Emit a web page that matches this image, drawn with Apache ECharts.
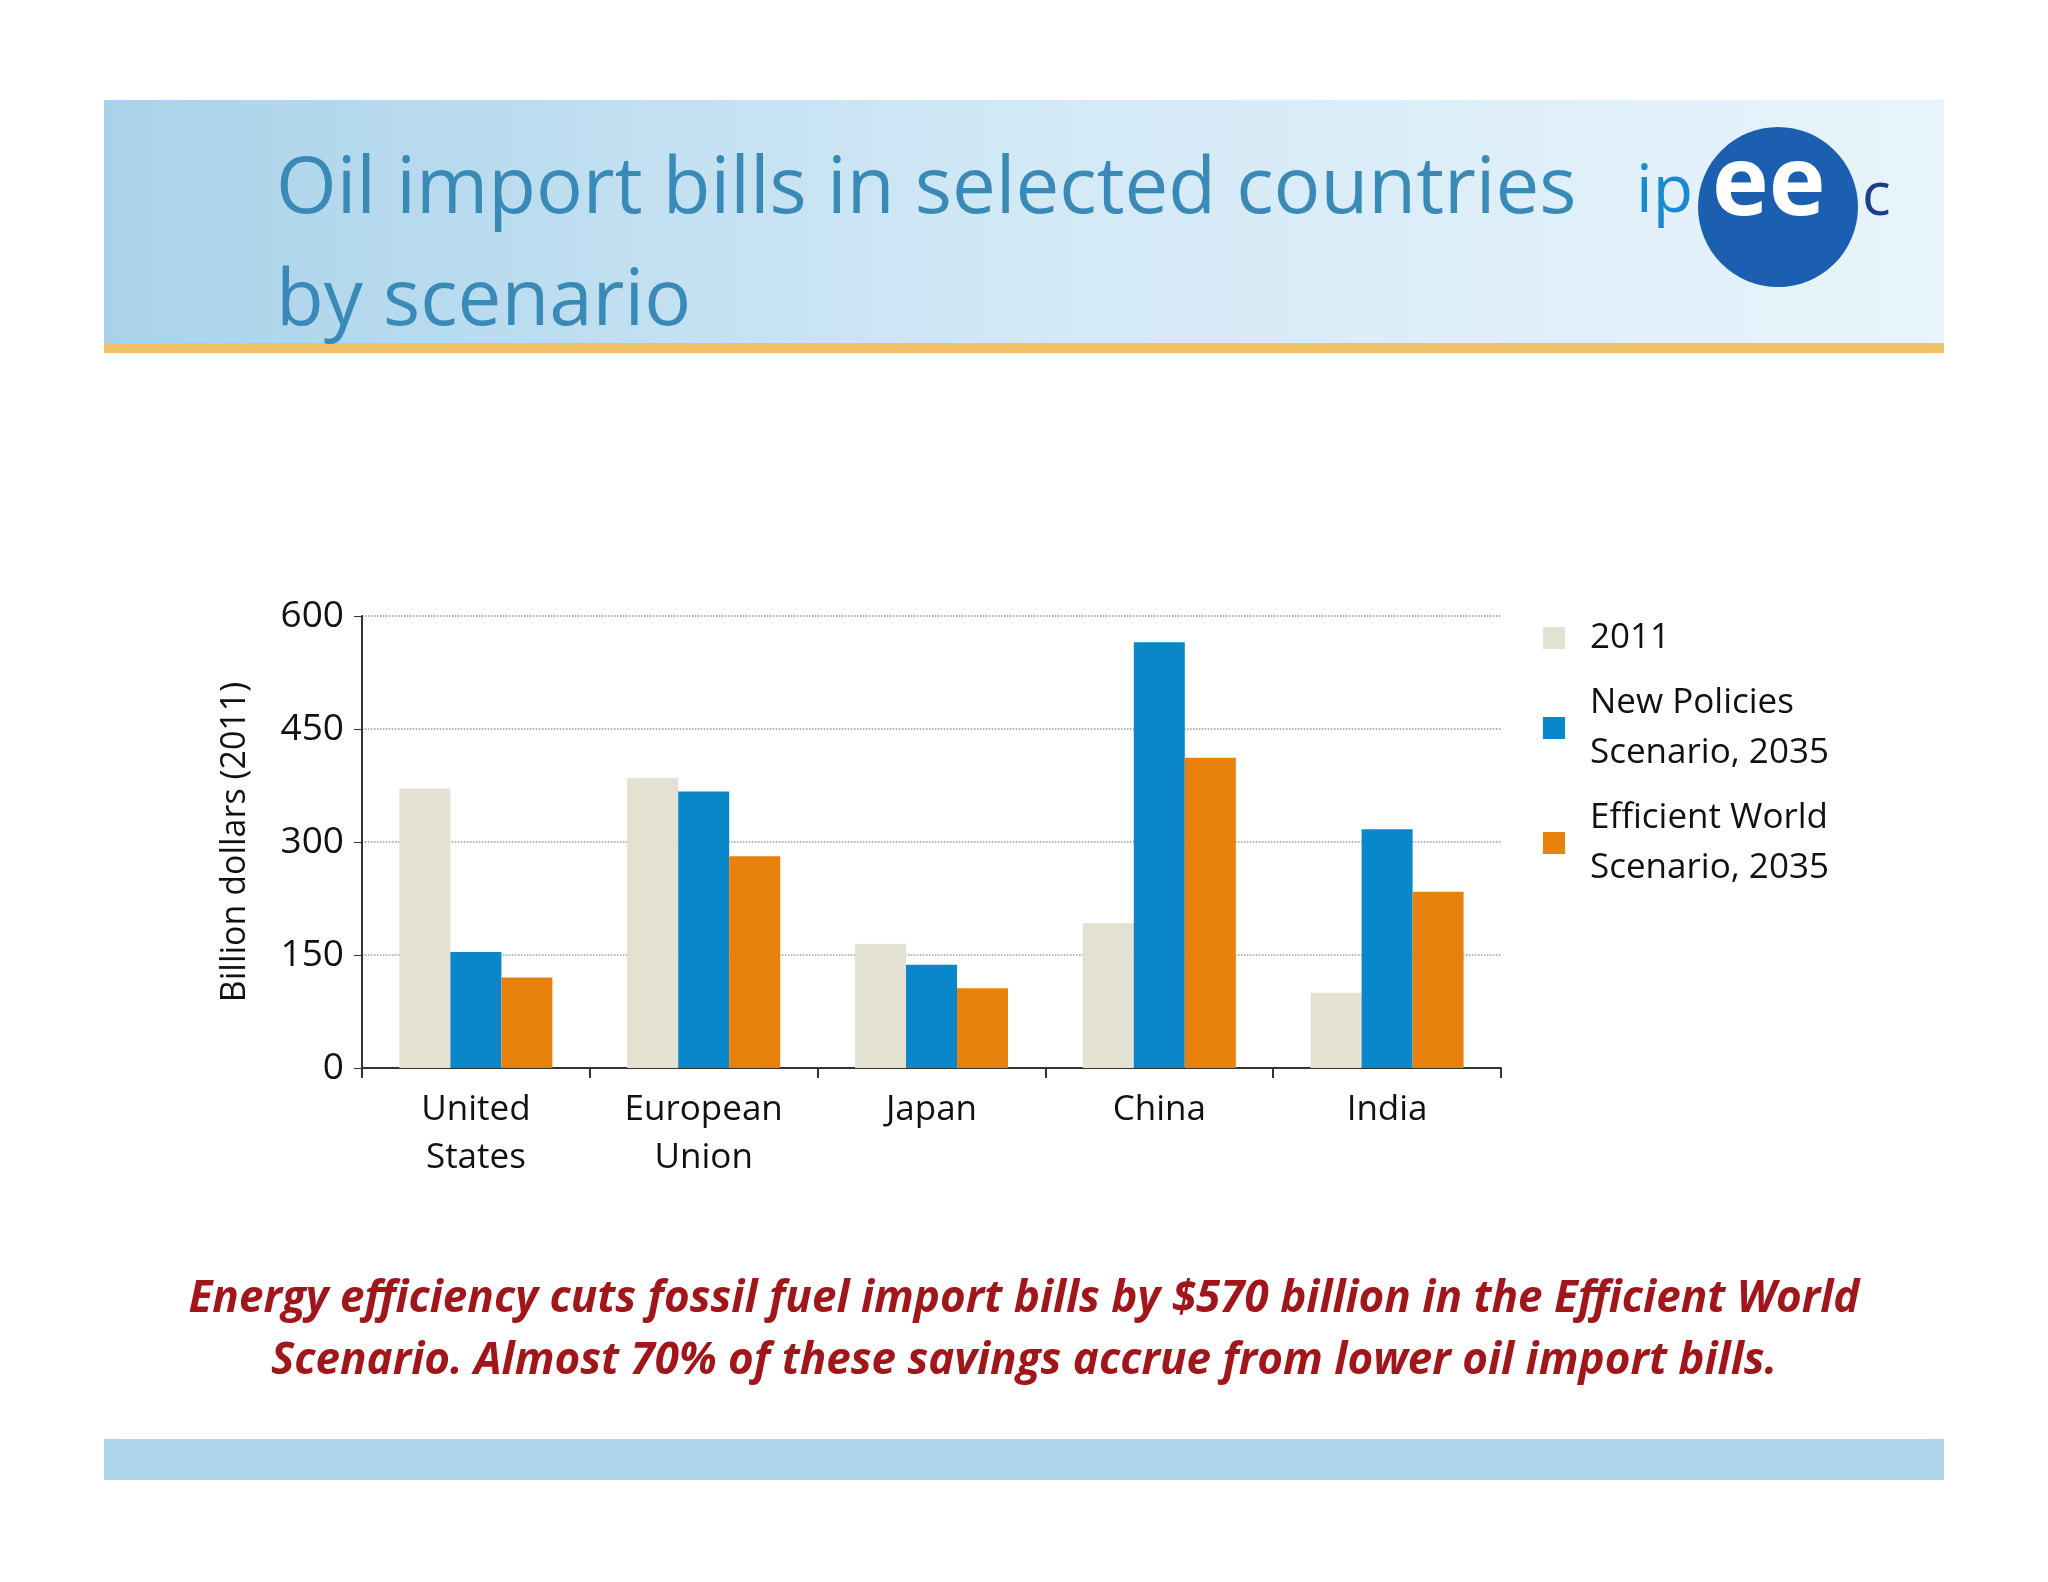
<!DOCTYPE html>
<html><head><meta charset="utf-8">
<script src="https://cdn.jsdelivr.net/npm/echarts@6/dist/echarts.min.js"></script>
<style>html,body{margin:0;padding:0;background:#fff}#c{width:2048px;height:1582px}</style>
</head><body><div id="c"></div>
<script>
const categories = ['United\nStates','European\nUnion','Japan','China','India'];
const s2011 = [371, 385, 165, 192, 100];
const sNewPolicies = [154, 367, 137, 565, 317];
const sEfficient = [120, 281, 106, 412, 234];
const seriesNames = ['2011','New Policies\nScenario, 2035','Efficient World\nScenario, 2035'];
const yTicks = [0,150,300,450,600];
const F = 'Open Sans, Noto Sans, sans-serif';
const chart = echarts.init(document.getElementById('c'));
chart.setOption({
  backgroundColor:'#fff',
  animation:false,
  graphic:[
    {type:'rect',shape:{x:104,y:100,width:1840,height:244},style:{fill:new echarts.graphic.LinearGradient(0,0,1,0,[{offset:0,color:'#a9d2ea'},{offset:0.5,color:'#d2e9f6'},{offset:1,color:'#e8f4fb'}])}},
    {type:'rect',shape:{x:104,y:343,width:1840,height:10},style:{fill:'#f1c168'}},
    {type:'text',left:276,top:152,style:{text:'Oil import bills in selected countries',font:'78px '+F,fill:'#3a8ab8'}},
    {type:'text',left:276,top:264,style:{text:'by scenario',font:'78px '+F,fill:'#3a8ab8'}},
    {type:'circle',shape:{cx:1778,cy:207,r:80},style:{fill:'#1a5fb0'}},
    {type:'text',left:1636,top:160,style:{text:'ip',font:'66px '+F,fill:'#1a8ad0'}},
    {type:'text',left:1712,top:140,style:{text:'ee',font:'bold 96px '+F,fill:'#fff'}},
    {type:'text',left:1862,top:168,style:{text:'c',font:'60px '+F,fill:'#1a3f90'}},
    {type:'text',x:1024,y:1268,style:{text:'Energy efficiency cuts fossil fuel import bills by $570 billion in the Efficient World\nScenario. Almost 70% of these savings accrue from lower oil import bills.',font:'italic bold 44px '+F,fill:'#a0161a',align:'center',textAlign:'center',lineHeight:62}},
    {type:'rect',shape:{x:104,y:1439,width:1840,height:41},style:{fill:'#acd4ea'}}
  ],
  legend:{left:1538,top:608,orient:'vertical',itemWidth:22,itemHeight:22,itemGap:15,icon:'rect',
    textStyle:{fontFamily:F,fontSize:35,color:'#111',lineHeight:50,padding:[0,0,0,20]},data:seriesNames},
  grid:{left:362,right:547,top:616,bottom:514},
  xAxis:{type:'category',data:categories,axisLine:{lineStyle:{color:'#333',width:2}},
    axisTick:{show:true,length:10,lineStyle:{color:'#333',width:2}},
    axisLabel:{fontFamily:F,fontSize:35,color:'#111',lineHeight:48,margin:18}},
  yAxis:{type:'value',min:0,max:600,interval:150,name:'Billion dollars (2011)',nameLocation:'middle',nameGap:110,
    nameTextStyle:{fontFamily:F,fontSize:34,color:'#111'},
    axisLine:{show:true,lineStyle:{color:'#333',width:2}},axisTick:{show:true,length:8,lineStyle:{color:'#333'}},
    axisLabel:{fontFamily:F,fontSize:37,color:'#111',margin:18,formatter:v=>yTicks.includes(v)?String(v):''},
    splitLine:{lineStyle:{color:'#999',type:'dotted',width:1.5}}},
  series:[
    {name:seriesNames[0],type:'bar',data:s2011,barWidth:51,barGap:'0%',itemStyle:{color:'#e3e1d1'}},
    {name:seriesNames[1],type:'bar',data:sNewPolicies,barWidth:51,itemStyle:{color:'#0a86cb'}},
    {name:seriesNames[2],type:'bar',data:sEfficient,barWidth:51,itemStyle:{color:'#e8800c'}}
  ]
});
</script></body></html>
